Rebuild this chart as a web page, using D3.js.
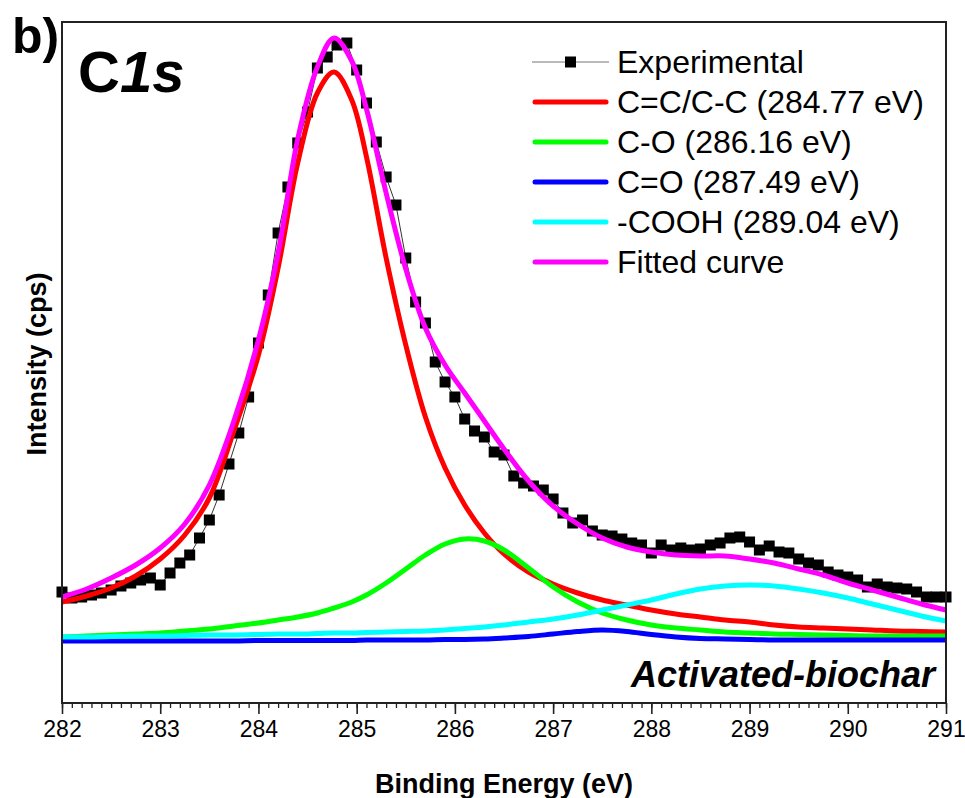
<!DOCTYPE html>
<html>
<head>
<meta charset="utf-8">
<script src="https://cdn.jsdelivr.net/npm/d3@7"></script>
<style>
  body { margin: 0; background: #fff; }
  svg { display: block; font-family: Arial, 'Liberation Sans', sans-serif; }
</style>
</head>
<body>
<svg id="chart" width="965" height="798"></svg>
<script>
// experimental C1s spectrum (binding energy in eV, intensity in kcps)
const expEnergy = [
  282.0, 282.1, 282.2, 282.3, 282.4, 282.5, 282.6, 282.7, 282.8, 282.9,
  283.0, 283.1, 283.2, 283.3, 283.4, 283.5, 283.6, 283.7, 283.8, 283.9,
  284.0, 284.1, 284.2, 284.3, 284.4, 284.5, 284.6, 284.7, 284.8, 284.9,
  285.0, 285.1, 285.2, 285.3, 285.4, 285.5, 285.6, 285.7, 285.8, 285.9,
  286.0, 286.1, 286.2, 286.3, 286.4, 286.5, 286.6, 286.7, 286.8, 286.9,
  287.0, 287.1, 287.2, 287.3, 287.4, 287.5, 287.6, 287.7, 287.8, 287.9,
  288.0, 288.1, 288.2, 288.3, 288.4, 288.5, 288.6, 288.7, 288.8, 288.9,
  289.0, 289.1, 289.2, 289.3, 289.4, 289.5, 289.6, 289.7, 289.8, 289.9,
  290.0, 290.1, 290.2, 290.3, 290.4, 290.5, 290.6, 290.7, 290.8, 290.9,
  291.0
]
const expIntensity = [
  11.1, 10.5, 10.6, 10.8, 11.0, 11.3, 11.7, 12.0, 12.3, 12.5,
  11.8, 13.0, 14.0, 14.8, 16.5, 18.3, 20.8, 23.9, 27.0, 30.6,
  36.0, 40.8, 47.0, 51.6, 56.0, 59.1, 63.5, 64.6, 65.8, 66.0,
  63.3, 60.0, 56.1, 52.6, 49.8, 44.5, 40.1, 38.0, 34.1, 32.1,
  30.6, 28.4, 27.2, 26.6, 25.1, 24.8, 22.7, 22.0, 21.7, 21.3,
  20.4, 19.0, 18.0, 18.3, 17.2, 16.8, 16.7, 16.4, 16.0, 15.8,
  15.0, 15.8, 15.3, 15.5, 15.3, 15.4, 15.8, 16.0, 16.5, 16.6,
  16.1, 15.3, 15.7, 15.1, 15.0, 14.4, 14.0, 13.8, 13.1, 12.8,
  12.6, 12.3, 11.6, 11.9, 11.6, 11.5, 11.4, 11.1, 10.6, 10.6,
  10.6
]

// fitted components, read at these energies
const fitEnergy = [
  282.0, 282.25, 282.5, 282.75, 283.0, 283.25, 283.5, 283.75, 284.0, 284.2,
  284.4, 284.6, 284.77, 284.95, 285.1, 285.3, 285.5, 285.7, 285.9, 286.1,
  286.3, 286.5, 286.75, 287.0, 287.25, 287.5, 287.75, 288.0, 288.25, 288.5,
  288.75, 289.0, 289.25, 289.5, 289.75, 290.0, 290.25, 290.5, 290.75, 291.0
]
const fitCC = [
  10.1, 10.7, 11.5, 12.7, 14.4, 16.8, 20.5, 27.2, 34.8, 43.5,
  54.0, 61.0, 63.1, 60.3, 54.6, 44.5, 35.8, 28.6, 23.5, 19.8,
  17.0, 14.9, 13.1, 11.9, 11.0, 10.3, 9.8, 9.3, 8.9, 8.6,
  8.3, 8.1, 7.8, 7.6, 7.5, 7.4, 7.3, 7.2, 7.15, 7.1
]
const fitCO = [
  6.6, 6.7, 6.8, 6.9, 7.0, 7.2, 7.4, 7.7, 8.0, 8.3,
  8.6, 9.0, 9.5, 10.1, 10.8, 12.0, 13.4, 14.8, 15.9, 16.4,
  16.2, 15.3, 13.5, 11.6, 10.1, 9.0, 8.3, 7.8, 7.5, 7.3,
  7.1, 7.0, 6.9, 6.85, 6.8, 6.75, 6.7, 6.7, 6.7, 6.7
]
const fitCdO = [
  6.2, 6.2, 6.2, 6.2, 6.2, 6.2, 6.2, 6.2, 6.25, 6.25,
  6.25, 6.25, 6.25, 6.25, 6.3, 6.3, 6.3, 6.3, 6.35, 6.35,
  6.4, 6.5, 6.65, 6.9, 7.15, 7.3, 7.15, 6.85, 6.6, 6.45,
  6.4, 6.35, 6.3, 6.3, 6.3, 6.3, 6.3, 6.3, 6.3, 6.3
]
const fitCOOH = [
  6.6, 6.6, 6.65, 6.7, 6.7, 6.75, 6.8, 6.8, 6.85, 6.9,
  6.9, 6.95, 7.0, 7.0, 7.05, 7.1, 7.15, 7.2, 7.3, 7.45,
  7.6, 7.8, 8.1, 8.4, 8.8, 9.3, 9.8, 10.3, 10.9, 11.4,
  11.7, 11.8, 11.7, 11.4, 11.0, 10.5, 9.9, 9.3, 8.7, 8.2
]
const fitTotal = [
  10.6, 11.4, 12.5, 13.8, 15.5, 17.9, 21.8, 28.2, 36.3, 45.0,
  56.4, 63.6, 66.5, 64.2, 59.4, 51.0, 43.4, 37.5, 33.8, 31.0,
  28.2, 25.4, 22.2, 19.7, 17.9, 16.5, 15.6, 15.1, 14.8, 14.7,
  14.7, 14.4, 14.0, 13.4, 12.8, 12.0, 11.3, 10.6, 9.9, 9.3
]

const xTicks = [282, 283, 284, 285, 286, 287, 288, 289, 290, 291]
const series = [
  { name: 'C=C/C-C (284.77 eV)', values: fitCC, color: '#ff0000' },
  { name: 'C-O (286.16 eV)', values: fitCO, color: '#00ff00' },
  { name: 'C=O (287.49 eV)', values: fitCdO, color: '#0000ff' },
  { name: '-COOH (289.04 eV)', values: fitCOOH, color: '#00ffff' },
  { name: 'Fitted curve', values: fitTotal, color: '#ff00ff' },
]

const margin = { left: 62, right: 946, top: 22, bottom: 703 }
const svg = d3.select('#chart')

const x = d3.scaleLinear().domain([282, 291]).range([margin.left, margin.right])
const y = d3.scaleLinear().domain([0, 68.1]).range([margin.bottom, margin.top])

// x axis with minor ticks
const minor = d3.range(2820, 2911).map((v) => v / 10)
svg.append('g')
  .attr('transform', `translate(0,${margin.bottom})`)
  .call(d3.axisBottom(x).tickValues(minor).tickSize(5).tickFormat(''))
  .call((g) => g.select('.domain').remove())
  .selectAll('line').attr('stroke', '#222').attr('stroke-width', 1.3)
const xAxis = svg.append('g')
  .attr('transform', `translate(0,${margin.bottom})`)
  .call(d3.axisBottom(x).tickValues(xTicks).tickSize(11).tickPadding(7).tickFormat(d3.format('d')))
xAxis.select('.domain').remove()
xAxis.selectAll('line').attr('stroke', '#222').attr('stroke-width', 1.6)
xAxis.selectAll('text').attr('font-size', 23).attr('fill', '#000')
  .attr('font-family', "Arial, 'Liberation Sans', sans-serif")

// experimental data
const expData = expEnergy.map((e, i) => ({ e, v: expIntensity[i] }))
svg.append('path')
  .datum(expData)
  .attr('fill', 'none')
  .attr('stroke', '#333')
  .attr('stroke-width', 1)
  .attr('d', d3.line().x((d) => x(d.e)).y((d) => y(d.v)))
svg.append('g')
  .selectAll('rect')
  .data(expData)
  .join('rect')
  .attr('x', (d) => x(d.e) - 5.5)
  .attr('y', (d) => y(d.v) - 5.5)
  .attr('width', 11)
  .attr('height', 11)
  .attr('fill', '#000')

// fitted components
const fitLine = d3.line().curve(d3.curveCatmullRom.alpha(0.5))
  .x((d) => x(d.e)).y((d) => y(d.v))
series.forEach((s) => {
  svg.append('path')
    .datum(fitEnergy.map((e, i) => ({ e, v: s.values[i] })))
    .attr('fill', 'none')
    .attr('stroke', s.color)
    .attr('stroke-width', 5)
    .attr('d', fitLine)
})

// frame
svg.append('rect')
  .attr('x', margin.left)
  .attr('y', margin.top)
  .attr('width', margin.right - margin.left)
  .attr('height', margin.bottom - margin.top)
  .attr('fill', 'none')
  .attr('stroke', '#222')
  .attr('stroke-width', 2)

// legend
const legend = svg.append('g').attr('transform', 'translate(532,62)')
const legendRows = [{ name: 'Experimental', color: null }].concat(series)
legendRows.forEach((r, i) => {
  const row = legend.append('g').attr('transform', `translate(0,${i * 40})`)
  if (r.color) {
    row.append('line').attr('x1', 3).attr('x2', 74)
      .attr('stroke', r.color).attr('stroke-width', 5).attr('stroke-linecap', 'round')
  } else {
    row.append('line').attr('x1', 0).attr('x2', 77)
      .attr('stroke', '#777').attr('stroke-width', 1.2)
    row.append('rect').attr('x', 33).attr('y', -5.5).attr('width', 11).attr('height', 11).attr('fill', '#000')
  }
  row.append('text')
    .attr('x', 85)
    .attr('y', 11)
    .attr('font-size', 32)
    .text(r.name)
})

// labels
svg.append('text')
  .attr('x', 12).attr('y', 53)
  .attr('font-size', 50).attr('font-weight', 'bold')
  .text('b)')
const c1s = svg.append('text')
  .attr('x', 78).attr('y', 92)
  .attr('font-size', 58).attr('font-weight', 'bold')
c1s.append('tspan').text('C')
c1s.append('tspan').attr('font-style', 'italic').text('1s')

svg.append('text')
  .attr('x', 935).attr('y', 687)
  .attr('text-anchor', 'end')
  .attr('font-size', 36).attr('font-weight', 'bold').attr('font-style', 'italic')
  .text('Activated-biochar')

svg.append('text')
  .attr('x', (margin.left + margin.right) / 2).attr('y', 793)
  .attr('text-anchor', 'middle')
  .attr('font-size', 27).attr('font-weight', 'bold')
  .text('Binding Energy (eV)')

svg.append('text')
  .attr('transform', 'translate(46,364) rotate(-90)')
  .attr('text-anchor', 'middle')
  .attr('font-size', 27).attr('font-weight', 'bold')
  .text('Intensity (cps)')
</script>
</body>
</html>
